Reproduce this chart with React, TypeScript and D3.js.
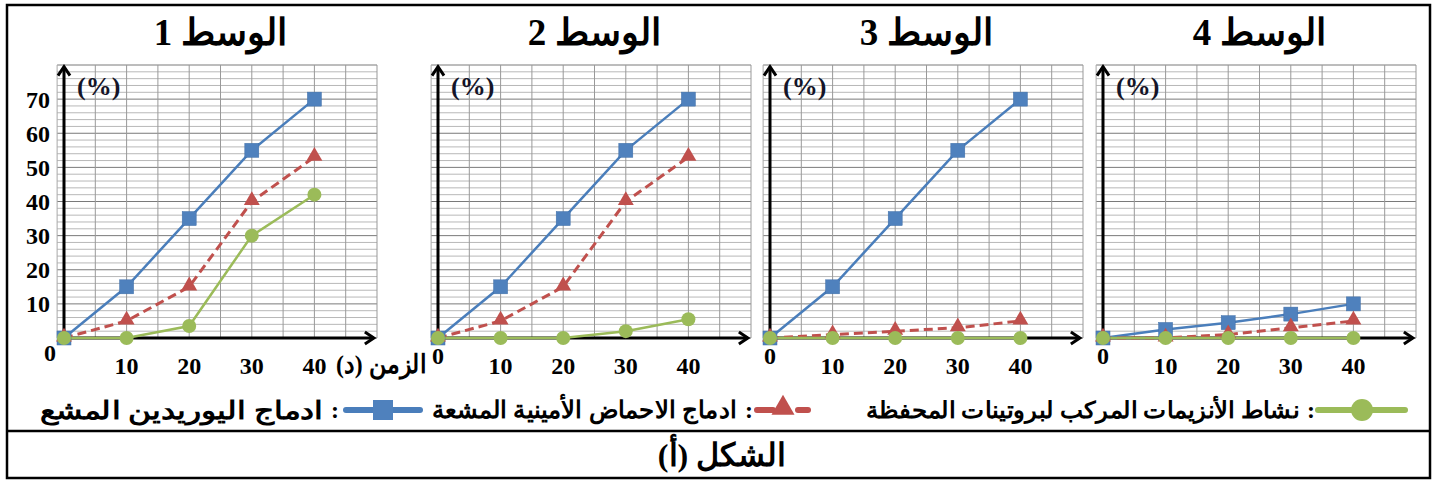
import { line, range, scaleLinear, symbol, symbolTriangle } from "d3";

// data (time in minutes, values in %)
const times = [0, 10, 20, 30, 40];
const xTicks = [10, 20, 30, 40];
const yTicks = [10, 20, 30, 40, 50, 60, 70];
const panelTitles = ["الوسط 1", "الوسط 2", "الوسط 3", "الوسط 4"];

const uridine = [
    [0, 15, 35, 55, 70],
    [0, 15, 35, 55, 70],
    [0, 15, 35, 55, 70],
    [0, 2.5, 4.5, 7, 10],
];
const aminoAcids = [
    [0, 5, 15, 40, 53],
    [0, 5, 15, 40, 53],
    [0, 1, 2, 3, 5],
    [0, 0, 1, 3, 5],
];
const enzymes = [
    [0, 0, 3.5, 30, 42],
    [0, 0, 0, 2, 5.5],
    [0, 0, 0, 0, 0],
    [0, 0, 0, 0, 0],
];

const legendLabels = [
    "ادماج اليوريدين المشع",
    "ادماج الاحماض الأمينية المشعة",
    "نشاط الأنزيمات المركب لبروتينات المحفظة",
];
const xTitle = "الزمن (د)";
const figureLabel = "الشكل (أ)";

const W = 1435
const H = 481
const panelX = [64, 438, 770, 1103]
const plotW = 313
const yTop = 65
const yBot = 338
const serif = "'Liberation Serif', 'Times New Roman', serif"
const BLUE = "#4a7ebb"
const RED = "#c0504d"
const GREEN = "#9bbb59"

// legend text boxes: [left, right, font size] of the label, colon sits just right of it
const legendBox = [[40, 323, 25], [432, 737, 24], [866, 1299, 23]]

function Panel({ i }: { i: number }) {
    const ox = panelX[i]
    const x = scaleLinear().domain([0, 50]).range([ox, ox + plotW])
    const y = scaleLinear().domain([0, 80]).range([yBot, yTop])
    const gx0 = x(-1.1)
    const hLines = range(0, 81, 2)
    const vLines = range(0, 51, 5)
    const mk = line<number>().x((_, k) => x(times[k])).y(d => y(d))
    const tri = symbol().type(symbolTriangle).size(110)()
    const ax0 = x(0)
    const ay0 = y(0)
    const tipY = y(79.5)
    const tipX = x(49.5)

    return (
        <g>
            <text x={x(25)} y={45} textAnchor="middle" direction="rtl"
                fontFamily={serif} fontWeight="bold" fontSize={37}>{panelTitles[i]}</text>

            {/* grid */}
            {hLines.map(v => (
                <line key={"h" + v} x1={gx0} x2={x(50)} y1={y(v)} y2={y(v)}
                    stroke={v % 10 === 0 ? "#7a7a7a" : "#b8b8b8"} strokeWidth={1} />
            ))}
            <line x1={gx0} x2={gx0} y1={yTop} y2={yBot} stroke="#a8a8a8" />
            {vLines.map(v => (
                <line key={"v" + v} x1={x(v)} x2={x(v)} y1={yTop} y2={yBot}
                    stroke="#999" strokeWidth={1} />
            ))}

            {/* axes with open arrow heads */}
            <line x1={ax0} x2={ax0} y1={ay0 + 1.5} y2={tipY} stroke="#000" strokeWidth={3} />
            <path d={`M${ax0 - 6},${tipY + 9} L${ax0},${tipY} L${ax0 + 6},${tipY + 9}`}
                fill="none" stroke="#000" strokeWidth={3} />
            <line x1={ax0 - 1.5} x2={tipX} y1={ay0} y2={ay0} stroke="#000" strokeWidth={3} />
            <path d={`M${tipX - 9},${ay0 - 6} L${tipX},${ay0} L${tipX - 9},${ay0 + 6}`}
                fill="none" stroke="#000" strokeWidth={3} />

            <text x={ox + 13} y={95} fontFamily={serif} fontWeight="bold" fontSize={26}
                fill="#141428">(%)</text>

            {i === 0 && yTicks.map(v => (
                <text key={"yt" + v} x={50} y={y(v)} dy="0.35em" textAnchor="end"
                    fontFamily={serif} fontWeight="bold" fontSize={24}>{v}</text>
            ))}
            <text x={i === 0 ? 50 : ax0} y={i === 0 ? 353 : 356} dy="0.35em" textAnchor="middle"
                fontFamily={serif} fontWeight="bold" fontSize={24}>0</text>
            {xTicks.map(v => (
                <text key={"xt" + v} x={x(v)} y={366} dy="0.35em" textAnchor="middle"
                    fontFamily={serif} fontWeight="bold" fontSize={24}>{v}</text>
            ))}
            {i === 0 && (
                <text x={381} y={364} dy="0.35em" textAnchor="middle" direction="rtl"
                    fontFamily={serif} fontWeight="bold" fontSize={26}
                    textLength={90} lengthAdjust="spacingAndGlyphs">{xTitle}</text>
            )}

            {/* series */}
            <path d={mk(uridine[i]) ?? ""} fill="none" stroke={BLUE} strokeWidth={2.5} />
            <path d={mk(aminoAcids[i]) ?? ""} fill="none" stroke={RED} strokeWidth={3}
                strokeDasharray="9,5" />
            <path d={mk(enzymes[i]) ?? ""} fill="none" stroke={GREEN} strokeWidth={2.5} />
            {uridine[i].map((v, k) => (
                <rect key={"b" + k} x={x(times[k]) - 7} y={y(v) - 7} width={14} height={14}
                    fill="#4f81bd" stroke="#3f6fa8" strokeWidth={0.5} />
            ))}
            {aminoAcids[i].map((v, k) => (
                <path key={"r" + k} d={tri ?? ""} transform={`translate(${x(times[k])},${y(v) - 1})`}
                    fill={RED} />
            ))}
            {enzymes[i].map((v, k) => (
                <circle key={"g" + k} cx={x(times[k])} cy={y(v)} r={7} fill={GREEN} />
            ))}
        </g>
    )
}

function LegendText({ k, y }: { k: number, y: number }) {
    const [l, r, fs] = legendBox[k]
    return (
        <g fontFamily={serif} fontWeight="bold">
            <text x={(l + r) / 2} y={y} dy="0.35em" textAnchor="middle" fontSize={fs}
                textLength={r - l} lengthAdjust="spacingAndGlyphs">{legendLabels[k]}</text>
            <text x={r + 8} y={y} dy="0.35em" fontSize={24}>:</text>
        </g>
    )
}

export default function App() {
    const legendY = 410
    const bigTri = symbol().type(symbolTriangle).size(230)()
    return (
        <svg width={W} height={H} viewBox={`0 0 ${W} ${H}`}
            style={{ position: "absolute", left: 0, top: 0, background: "#fff" }}>
            <rect x={7} y={5} width={1423} height={473} fill="#fff" stroke="#000" strokeWidth={2.5} />
            <line x1={7} x2={1430} y1={431} y2={431} stroke="#000" strokeWidth={2.5} />

            {panelTitles.map((_, i) => <Panel key={i} i={i} />)}

            {/* legend */}
            <line x1={346} x2={420} y1={legendY} y2={legendY} stroke={BLUE} strokeWidth={6} strokeLinecap="round" />
            <rect x={373} y={legendY - 10} width={20} height={20} fill="#4f81bd" />
            <LegendText k={0} y={legendY} />

            <line x1={757} x2={773} y1={legendY} y2={legendY} stroke={RED} strokeWidth={6} strokeLinecap="round" />
            <line x1={798} x2={808} y1={legendY} y2={legendY} stroke={RED} strokeWidth={6} strokeLinecap="round" />
            <path d={bigTri ?? ""} transform={`translate(783,${legendY - 2})`} fill={RED} />
            <LegendText k={1} y={legendY} />

            <line x1={1318} x2={1405} y1={legendY} y2={legendY} stroke={GREEN} strokeWidth={6} strokeLinecap="round" />
            <circle cx={1362} cy={legendY} r={11} fill={GREEN} />
            <LegendText k={2} y={legendY} />

            <text x={722} y={455} dy="0.35em" textAnchor="middle" direction="rtl"
                fontFamily={serif} fontWeight="bold" fontSize={32}>{figureLabel}</text>
        </svg>
    )
}
